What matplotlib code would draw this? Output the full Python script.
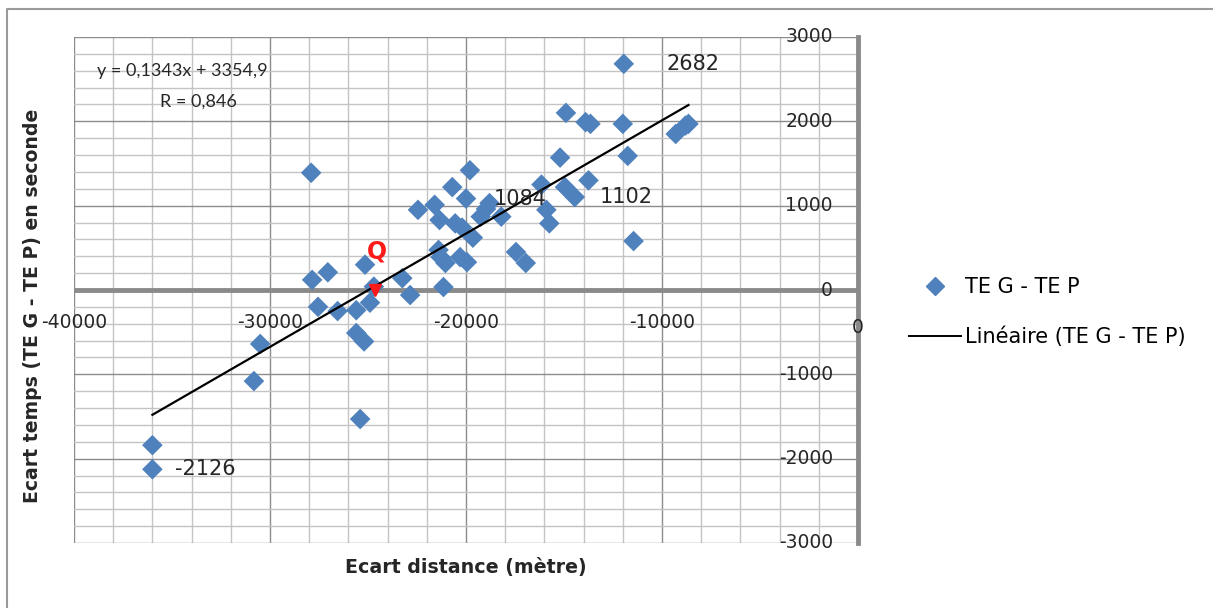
import numpy as np
import matplotlib
matplotlib.use("Agg")
import matplotlib.pyplot as plt
from matplotlib.lines import Line2D
from matplotlib.ticker import MultipleLocator

# ecarts distance (m) / ecarts temps (s)
ecart_dist = [-36000, -36000, -30820, -30500, -27900, -27850, -27550, -27050,
              -26550, -25600, -25600, -25200, -25400, -25150, -24900, -24700,
              -23250, -22850, -22450, -21600, -21350, -21400, -21300, -21150,
              -21050, -20700, -20550, -20300, -20200, -20000, -19950, -19800,
              -19650, -19250, -18980, -18800, -18200, -17450, -16950, -16150,
              -15900, -15750, -15200, -14900, -14950, -14450, -13900, -13650,
              -13750, -12000, -11950, -11750, -11450, -9300, -8800, -8650]
ecart_temps = [-2126, -1840, -1080, -640, 1390, 120, -200, 210,
               -250, -240, -510, -610, -1530, 300, -150, 40,
               140, -60, 950, 1010, 830, 475, 390, 35,
               320, 1220, 790, 390, 740, 1084, 330, 1420,
               620, 870, 960, 1030, 870, 450, 320, 1250,
               950, 790, 1570, 2100, 1220, 1102, 1990, 1970,
               1300, 1970, 2682, 1590, 580, 1850, 1950, 1970]

# point Q
q_dist, q_temps = -24650, 0

# droite de tendance affichee par Excel
pente, ordonnee = 0.1343, 3354.9
equation = "y = 0,1343x + 3354,9"
coef_r = "R = 0,846"

# etiquettes de donnees : texte -> (x, y) du point
labels = {"2682": (-11950, 2682), "1084": (-20000, 1084),
          "1102": (-14450, 1102), "-2126": (-36000, -2126)}
label_dx = {"2682": 31, "1084": 20, "1102": 18, "-2126": 16}

plt.rcParams['font.family'] = ['DejaVu Sans']
W, H = 1213, 608
fig = plt.figure(figsize=(W / 100, H / 100), dpi=100)
ax = fig.add_axes([74 / W, 1 - 543 / H, (858 - 74) / W, (543 - 37) / H])

ax.set_xlim(-40000, 0)
ax.set_ylim(-3000, 3000)
ax.xaxis.set_major_locator(MultipleLocator(10000))
ax.xaxis.set_minor_locator(MultipleLocator(2000))
ax.yaxis.set_major_locator(MultipleLocator(1000))
ax.yaxis.set_minor_locator(MultipleLocator(200))
ax.grid(which='major', color='#8c8c8c', lw=1.0)
ax.grid(which='minor', color='#c4c4c4', lw=1.0)
ax.set_axisbelow(True)
for s in ax.spines.values():
    s.set_visible(False)
ax.tick_params(which='both', length=0, labelbottom=False, labelleft=False)

# axes qui se croisent en 0
ax.axhline(0, color='#8a8a8a', lw=3.5, zorder=1)
ax.axvline(0, color='#8a8a8a', lw=3.5, zorder=1, clip_on=False)
for xv in range(-40000, 0, 10000):
    ax.text(xv, -390, str(xv), ha='center', va='center', fontsize=13.5, color='#262626')
ax.text(0, -440, "0", ha='center', va='center', fontsize=13.5, color='#262626')
for yv in range(-3000, 3001, 1000):
    ax.text(-1280, yv, str(yv), ha='right', va='center', fontsize=13.5, color='#262626')

ax.scatter(ecart_dist, ecart_temps, marker='D', s=110, color='#4f81bd',
           edgecolors='none', zorder=3)
xs = np.array([min(ecart_dist), max(ecart_dist)])
ax.plot(xs, pente * xs + ordonnee, color='black', lw=1.6, zorder=4)

ax.plot([q_dist], [q_temps], marker='v', ms=9, color='#ff1a1a', zorder=5)
ax.text(q_dist + 100, 460, "Q", color='#ff1a1a', fontsize=17, fontweight='bold',
        ha='center', va='center', zorder=5)

for txt, (xv, yv) in labels.items():
    ax.annotate(txt, (xv, yv), xytext=(label_dx[txt], 0), textcoords='offset points',
                ha='left', va='center', fontsize=15, color='#262626', zorder=6)
ax.text(-40000 + 1150, 2600, equation, ha='left', va='center', fontsize=13,
        family='Lato', color='#262626')
ax.text(-40000 + 4400, 2230, coef_r, ha='left', va='center', fontsize=13,
        family='Lato', color='#262626')

ax.text(0.5, -0.048, "Ecart distance (mètre)", transform=ax.transAxes, ha='center',
        va='center', fontsize=13.7, fontweight='bold', color='#262626')
fig.text(33 / W, 1 - 306 / H, "Ecart temps (TE G - TE P) en seconde", rotation=90,
         ha='center', va='center', fontsize=13.6, fontweight='bold', color='#262626')

# legende
handles = [Line2D([], [], marker='D', ls='none', color='#4f81bd', ms=9),
           Line2D([], [], color='black', lw=1.4)]
fig.legend(handles, ["TE G - TE P", "Linéaire (TE G - TE P)"], loc='center left',
           bbox_to_anchor=(890 / W, 1 - 312 / H), frameon=False, fontsize=15,
           handlelength=2.5, handletextpad=0.2, labelspacing=1.4)

# cadre du graphique
fig.add_artist(Line2D([7 / W, 7 / W, 1], [0, 1 - 9 / H, 1 - 9 / H],
                      transform=fig.transFigure, color='#9a9a9a', lw=1.5))

fig.savefig("out.png", dpi=100)
